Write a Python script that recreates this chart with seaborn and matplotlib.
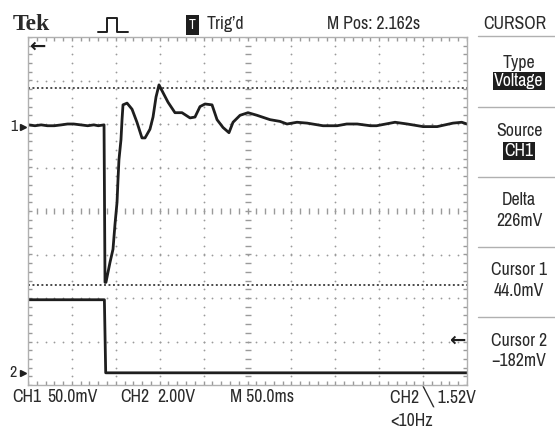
import numpy as np
import pandas as pd
import matplotlib
matplotlib.use("Agg")
import matplotlib.pyplot as plt
import seaborn as sns
from matplotlib.lines import Line2D

# ---------------------------------------------------------------
# data
# ---------------------------------------------------------------
# CH1 trace: time across the screen (ms), value (mV)
ch1_t = [0, 8, 15, 22, 30, 38, 45, 52, 60, 68, 75, 80, 86.6,
         87.7, 88.8, 93.4, 96.8, 99.1, 101.4, 102.5, 103.6, 105.9, 107.1, 108.2,
         112.8, 118.5, 124.1, 129.8, 133.3, 138.9, 142.4, 145.8, 149.2, 153.8,
         159.5, 167.4, 175.4, 184.5, 190.2, 195.9, 201.6, 209.6, 215.3, 222.1,
         228.9, 233.5, 241.5, 250.6, 260.8, 275.6, 287.0, 295.0, 306.4,
         318, 336, 352, 363, 375, 390, 397, 418, 432, 450, 466, 484, 494, 500]
ch1_mv = [2, 1, 2, 1, 1, 2, 3, 3, 2, 1, 2, 1, 2,
          -179, -179, -156, -141, -112, -87, -61, -38, -15, 8, 25,
          27, 20, 5, -13, -13, -3, 11, 34, 48, 39,
          28, 16, 16, 10, 11, 23, 26, 25, 8, -1,
          -7, 5, 13, 16, 13, 8, 6, 3, 5,
          4, 1, 1, 3, 3, 1, 1, 5, 3, 0, 0, 4, 5, 3]

# CH2 trace: time (ms), value (V)
ch2_t = [0, 87.0, 88.5, 500]
ch2_v = [3.36, 3.36, 0.0, 0.0]

cursor_mv = [44.0, -182.0]
trig_level_v = 1.52

CH1_SCALE = 50.0    # mV/div
CH2_SCALE = 2.00    # V/div
TIME_SCALE = 50.0   # ms/div
CH1_POS = 1.94      # ground marker position, div
CH2_POS = -3.72

W, H = 555, 428
INK = "#1e1e1e"
TXT = "#2a2a2a"
GRID = "#9a9a9a"
FS = 12.8

sns.set_theme(style="white")
plt.rcParams["font.family"] = ["Archivo Narrow", "Liberation Sans", "DejaVu Sans"]

fig = plt.figure(figsize=(W / 100, H / 100), dpi=100)
fig.patch.set_facecolor("white")
ax = fig.add_axes([28 / W, (H - 385) / H, 439 / W, 348 / H])
ax.set_xlim(0, 10)
ax.set_ylim(-4, 4)
ax.set_xticks([])
ax.set_yticks([])
for sp in ax.spines.values():
    sp.set_color("#b0b0b0")
    sp.set_linewidth(1.0)


def px(x, y):
    return x / W, 1 - y / H


# graticule: dotted division lines, minor ticks on center cross and border
minor_x = np.arange(0, 10.001, 0.2)
minor_y = np.arange(-4, 4.001, 0.2)
for i in range(1, 10):
    if i == 5:
        continue
    ax.plot([i] * len(minor_y), minor_y, ls="none", marker="o", ms=1.3,
            color=GRID, mec="none")
for j in range(-3, 4):
    if j == 0:
        continue
    ax.plot(minor_x, [j] * len(minor_x), ls="none", marker="o", ms=1.3,
            color=GRID, mec="none")
ax.plot([5] * len(minor_y), minor_y, ls="none", marker="_", ms=4, mew=1,
        color=GRID)
ax.plot(minor_x, [0] * len(minor_x), ls="none", marker="|", ms=4, mew=1,
        color=GRID)
for yb in (-4, 4):
    ax.plot(minor_x, [yb] * len(minor_x), ls="none", marker="|", ms=6, mew=1,
            color=GRID)
for xb in (0, 10):
    ax.plot([xb] * len(minor_y), minor_y, ls="none", marker="_", ms=6, mew=1,
            color=GRID)

# cursors
for c in cursor_mv:
    ax.axhline(c / CH1_SCALE + CH1_POS, color="#4a4a4a", lw=1.4,
               ls=(0, (1, 1.3)))

# traces
df1 = pd.DataFrame({"x": np.array(ch1_t) / TIME_SCALE,
                    "y": np.array(ch1_mv) / CH1_SCALE + CH1_POS})
df2 = pd.DataFrame({"x": np.array(ch2_t) / TIME_SCALE,
                    "y": np.array(ch2_v) / CH2_SCALE + CH2_POS})
sns.lineplot(data=df1, x="x", y="y", sort=False, estimator=None, color=INK,
             lw=2.0, ax=ax)
sns.lineplot(data=df2, x="x", y="y", sort=False, estimator=None, color=INK,
             lw=2.0, ax=ax)
ax.set_xlabel("")
ax.set_ylabel("")

# markers on the screen
ax.text(0.03, 3.8, "\u2190", fontsize=14, fontweight="bold", color=INK,
        family="DejaVu Sans", ha="left", va="center")
ax.text(9.97, trig_level_v / CH2_SCALE + CH2_POS, "\u2190", fontsize=14,
        fontweight="bold", color=INK, family="DejaVu Sans", ha="right",
        va="center")
for lab, pos in (("1", CH1_POS), ("2", CH2_POS)):
    ax.text(-0.25, pos, lab, fontsize=11.5, color=TXT, ha="right",
            va="center", clip_on=False)
    ax.plot([-0.12], [pos], marker=">", ms=5, color=INK, clip_on=False)

# header
fig.text(*px(13, 25), "Tek", family="Liberation Serif", fontweight="bold",
         fontsize=17, color=TXT, ha="left", va="center")
pulse_x = [98, 107, 107, 117, 117, 128]
pulse_y = [32, 32, 18, 18, 32, 32]
fig.add_artist(Line2D([x / W for x in pulse_x], [1 - y / H for y in pulse_y],
                      transform=fig.transFigure, color=INK, lw=1.4))
fig.text(*px(192.5, 25), "T", fontsize=10, fontweight="bold", color="white",
         ha="center", va="center",
         bbox=dict(facecolor=INK, edgecolor="none", pad=2.3))
fig.text(*px(207, 24), "Trig\u2019d", fontsize=FS, color=TXT, ha="left",
         va="center")
fig.text(*px(374, 24), "M Pos: 2.162s", fontsize=FS, color=TXT,
         ha="center", va="center")
fig.text(*px(515, 24), "CURSOR", fontsize=FS, color=TXT, ha="center",
         va="center")

# right side menu
for y in (36, 107, 177, 247, 317):
    fig.add_artist(Line2D([478 / W, 1], [1 - y / H] * 2,
                          transform=fig.transFigure, color="#b0b0b0", lw=1))
menu = [("Type", 63, False), ("Voltage", 81, True),
        ("Source", 131, False), ("CH1", 151, True),
        ("Delta", 200, False), ("226mV", 221, False),
        ("Cursor 1", 270, False), ("44.0mV", 291, False),
        ("Cursor 2", 341, False), ("\u2212182mV", 361, False)]
for txt, y, boxed in menu:
    if boxed:
        fig.text(*px(519, y), txt, fontsize=FS, color="white", ha="center",
                 va="center",
                 bbox=dict(facecolor=INK, edgecolor="none", pad=1.0))
    else:
        fig.text(*px(519, y), txt, fontsize=FS, color=TXT, ha="center",
                 va="center")

# footer
footer = [("CH1", 12, 397), ("50.0mV", 47, 397), ("CH2", 120, 397),
          ("2.00V", 157, 397), ("M 50.0ms", 230, 397),
          ("CH2 \u2572 1.52V", 390, 397), ("<10Hz", 390, 421)]
for txt, x, y in footer:
    fig.text(*px(x, y), txt, fontsize=FS, color=TXT, ha="left", va="center")

fig.savefig("out.png", dpi=100, facecolor="white")
